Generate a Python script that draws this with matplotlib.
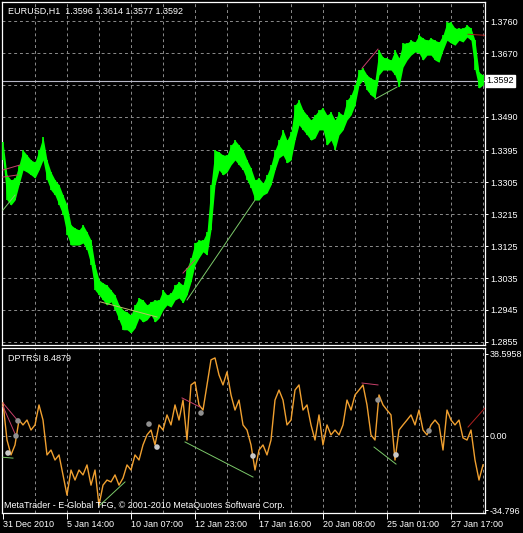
"""EURUSD H1 chart with DPTRSI sub-window, MetaTrader style."""

import matplotlib
matplotlib.use("Agg")
import matplotlib.pyplot as plt
import numpy as np

matplotlib.rcParams.update({
    "font.family": ["Liberation Sans", "DejaVu Sans"],
    "font.size": 6.5,
})

W, H = 523, 533
STEP = 4  # bars between samples

# ---------------------------------------------------------------------------
# data (one sample every 4 bars)
# ---------------------------------------------------------------------------
price_hi = [
    1.3419, 1.3326, 1.3312, 1.3317, 1.3354, 1.3396, 1.3382, 1.3368, 1.3362, 1.3396,
    1.3433, 1.3368, 1.3334, 1.3312, 1.3298, 1.3269, 1.3241, 1.3185, 1.3176, 1.3171,
    1.3185, 1.3165, 1.3142, 1.3072, 1.3030, 1.3021, 1.3015, 1.3001, 1.2987, 1.2959,
    1.2945, 1.2939, 1.2931, 1.2959, 1.2979, 1.2973, 1.2959, 1.2968, 1.2973, 1.2973,
    1.3001, 1.2987, 1.2993, 1.3015, 1.3024, 1.3015, 1.3063, 1.3092, 1.3134, 1.3142,
    1.3142, 1.3165, 1.3298, 1.3396, 1.3391, 1.3382, 1.3382, 1.3410, 1.3424, 1.3410,
    1.3396, 1.3368, 1.3345, 1.3312, 1.3317, 1.3303, 1.3326, 1.3354, 1.3396, 1.3424,
    1.3453, 1.3424, 1.3447, 1.3523, 1.3537, 1.3509, 1.3495, 1.3481, 1.3495, 1.3509,
    1.3515, 1.3495, 1.3503, 1.3481, 1.3503, 1.3495, 1.3537, 1.3551, 1.3580, 1.3622,
    1.3627, 1.3608, 1.3599, 1.3594, 1.3678, 1.3658, 1.3656, 1.3650, 1.3678, 1.3656,
    1.3698, 1.3698, 1.3706, 1.3701, 1.3721, 1.3712, 1.3706, 1.3712, 1.3706, 1.3701,
    1.3721, 1.3757, 1.3757, 1.3740, 1.3740, 1.3740, 1.3749, 1.3740, 1.3706, 1.3616,
    1.3608,
]
price_lo = [
    1.3368, 1.3255, 1.3241, 1.3255, 1.3298, 1.3340, 1.3334, 1.3326, 1.3317, 1.3340,
    1.3368, 1.3312, 1.3283, 1.3269, 1.3241, 1.3213, 1.3157, 1.3128, 1.3128, 1.3128,
    1.3134, 1.3114, 1.3072, 1.3001, 1.2987, 1.2973, 1.2959, 1.2968, 1.2945, 1.2917,
    1.2889, 1.2889, 1.2880, 1.2894, 1.2922, 1.2911, 1.2917, 1.2931, 1.2911, 1.2922,
    1.2945, 1.2959, 1.2953, 1.2973, 1.2979, 1.2965, 1.2987, 1.3024, 1.3072, 1.3092,
    1.3109, 1.3100, 1.3171, 1.3298, 1.3340, 1.3326, 1.3334, 1.3354, 1.3368, 1.3354,
    1.3340, 1.3312, 1.3289, 1.3255, 1.3255, 1.3269, 1.3275, 1.3298, 1.3340, 1.3374,
    1.3382, 1.3360, 1.3368, 1.3424, 1.3467, 1.3453, 1.3439, 1.3424, 1.3430, 1.3453,
    1.3453, 1.3410, 1.3424, 1.3396, 1.3439, 1.3453, 1.3481, 1.3495, 1.3523, 1.3580,
    1.3594, 1.3565, 1.3551, 1.3543, 1.3608, 1.3622, 1.3622, 1.3622, 1.3608, 1.3574,
    1.3630, 1.3650, 1.3664, 1.3673, 1.3670, 1.3650, 1.3664, 1.3664, 1.3650, 1.3644,
    1.3678, 1.3706, 1.3698, 1.3692, 1.3706, 1.3701, 1.3715, 1.3706, 1.3622, 1.3571,
    1.3580,
]
dptrsi = [
    15.5, -1.9, -8.9, -4.2, 7.5, 5.2, 7.5, 2.8, 5.2, 14.6,
    7.5, -8.9, -6.6, -11.3, -8.9, -18.3, -27.8, -16.0, -20.7, -16.0,
    -18.3, -13.6, -23.1, -16.0, -32.5, -23.1, -20.7, -21.6, -18.3, -23.1,
    -19.8, -13.6, -16.0, -8.9, -11.3, -4.2, 0.5, 2.8, -4.2, 5.2,
    2.8, 9.9, 5.2, 14.6, 7.5, 16.9, -1.9, 24.0, 25.4, 14.6,
    12.2, 24.0, 35.8, 36.7, 28.7, 24.0, 30.1, 19.3, 12.2, 16.9,
    5.2, 2.8, -4.2, -16.0, -6.6, -4.2, -8.9, -1.9, 16.9, 21.6,
    16.9, 5.2, 7.5, 21.6, 24.0, 12.2, 14.6, 5.2, -1.9, 9.9,
    -4.2, 5.2, 0.5, 2.8, 0.5, 5.2, 16.9, 12.2, 19.3, 21.6,
    24.0, 14.6, 0.5, -1.9, 19.3, 14.6, 12.2, 9.9, -11.3, 2.8,
    5.2, 7.5, 9.9, 5.2, 12.2, 2.8, 0.5, 5.2, 7.5, 5.2,
    -6.6, 12.2, 7.5, 5.2, 7.5, -0.9, -1.9, 2.8, -11.3, -20.7,
    -13.6,
]

# divergence trend lines: (bar0, bar1, value0, value1, colour)
price_lines = [
    (0, 17, 1.3340, 1.3354, "#C8406A"),
    (0, 15, 1.3320, 1.3326, "#C8406A"),
    (0, 12, 1.3227, 1.3269, "#7CC96A"),
    (97, 154, 1.2968, 1.2925, "#BDBD6A"),
    (180, 192, 1.3049, 1.3086, "#C8406A"),
    (184, 252, 1.2973, 1.3255, "#7CC96A"),
    (359, 375, 1.3627, 1.3681, "#C8406A"),
    (372, 394, 1.3540, 1.3574, "#7CC96A"),
    (465, 482, 1.3723, 1.3720, "#B02020"),
]
osc_lines = [
    (0, 15, 15.5, 7.1, "#C8406A"),
    (0, 13, 14.0, 0.0, "#C8406A"),
    (0, 10, -10.0, -10.4, "#7CC96A"),
    (97, 122, -32.5, -21.6, "#7CC96A"),
    (179, 197, 17.9, 13.6, "#C8406A"),
    (182, 250, -2.8, -19.3, "#7CC96A"),
    (359, 375, 24.9, 24.0, "#C8406A"),
    (371, 393, -5.2, -13.2, "#7CC96A"),
    (465, 482, 4.2, 13.2, "#B02020"),
]
dot_bars = [5, 13, 15, 146, 154, 198, 250, 375, 393, 426]
dot_vals = [-8.0, 0.0, 7.1, 5.6, -5.2, 10.8, -9.4, 16.9, -8.9, 2.4]
dot_cols = ["#C8C8C8", "#909090", "#909090", "#909090", "#C8C8C8",
            "#909090", "#C8C8C8", "#909090", "#C8C8C8", "#909090"]

price_ticks = [1.3760, 1.3670, 1.3580, 1.3490, 1.3395, 1.3305, 1.3215,
               1.3125, 1.3035, 1.2945, 1.2855]
last_price = 1.3592
osc_ticks = [38.5958, 0.0, -34.796]
osc_tick_labels = ["38.5958", "0.00", "-34.796"]
time_bars = [0, 64, 128, 192, 256, 320, 384, 448]
time_labels = ["31 Dec 2010", "5 Jan 14:00", "10 Jan 07:00", "12 Jan 23:00",
               "17 Jan 16:00", "20 Jan 08:00", "25 Jan 01:00", "27 Jan 17:00"]
grid_bars = list(range(32, 481, 32))

# ---------------------------------------------------------------------------
fig = plt.figure(figsize=(W / 100, H / 100), dpi=100, facecolor="black")


def px_axes(x0, y0, x1, y1):
    return fig.add_axes([x0 / W, 1 - y1 / H, (x1 - x0) / W, (y1 - y0) / H])


ax1 = px_axes(2, 2, 485, 345)
ax2 = px_axes(2, 347.5, 485, 513)

GRID = dict(color="#8C8C8C", lw=0.7, ls=(0, (3, 3)), zorder=1)

for ax in (ax1, ax2):
    ax.set_facecolor("black")
    ax.set_xlim(-1, 482)
    for s in ax.spines.values():
        s.set_color("white")
        s.set_linewidth(0.9)
    for b in grid_bars:
        ax.axvline(b, **GRID)
    ax.yaxis.tick_right()
    ax.tick_params(axis="y", colors="white", length=2.5, width=0.7,
                   labelsize=6.5, pad=1)

# main price window
x = np.arange(len(price_hi)) * STEP
ax1.set_ylim(1.2846, 1.3814)
for p in price_ticks:
    ax1.axhline(p, **GRID)
ax1.axhline(last_price, color="#B8B8C8", lw=0.8, zorder=2)
ax1.fill_between(x, price_lo, price_hi, color="#00FF00", lw=0, zorder=3)
ax1.vlines(x, price_lo, price_hi, color="#00FF00", lw=1.2, zorder=3)
for b0, b1, v0, v1, c in price_lines:
    ax1.plot([b0, b1], [v0, v1], color=c, lw=0.7, zorder=4)
ax1.set_yticks(price_ticks)
ax1.set_yticklabels([f"{p:.4f}" if p != 1.3580 else "" for p in price_ticks])
ax1.set_xticks([])
ax1.text(1.003, last_price, f"{last_price:.4f}",
         transform=ax1.get_yaxis_transform(), ha="left", va="center",
         fontsize=6.5, color="black",
         bbox=dict(boxstyle="square,pad=0.15", fc="white", ec="white"))
ax1.text(0.012, 0.985, "EURUSD,H1  1.3596 1.3614 1.3577 1.3592",
         transform=ax1.transAxes, ha="left", va="top", color="white",
         fontsize=6.5)

# DPTRSI window
xo = np.arange(len(dptrsi)) * STEP
ax2.set_ylim(-36.2, 41.6)
ax2.axhline(0, **GRID)
ax2.plot(xo, dptrsi, color="#F0A030", lw=1.0, zorder=3)
for b0, b1, v0, v1, c in osc_lines:
    ax2.plot([b0, b1], [v0, v1], color=c, lw=0.7, zorder=4)
ax2.scatter(dot_bars, dot_vals, s=16, c=dot_cols, zorder=5, linewidths=0)
ax2.set_yticks(osc_ticks)
ax2.set_yticklabels(osc_tick_labels)
ax2.set_xticks(time_bars)
ax2.set_xticklabels(time_labels)
ax2.tick_params(axis="x", colors="white", length=4, width=0.7,
                labelsize=6.5, pad=1)
for lab in ax2.get_xticklabels():
    lab.set_ha("left")
ax2.text(0.012, 0.96, "DPTRSI 8.4879", transform=ax2.transAxes,
         ha="left", va="top", color="white", fontsize=6.5)
ax2.text(0.004, 0.02,
         "MetaTrader - E-Global TFG, \u00a9 2001-2010 MetaQuotes Software Corp.",
         transform=ax2.transAxes, ha="left", va="bottom", color="white",
         fontsize=6.5)

fig.savefig("out.png", dpi=100, facecolor="black")
